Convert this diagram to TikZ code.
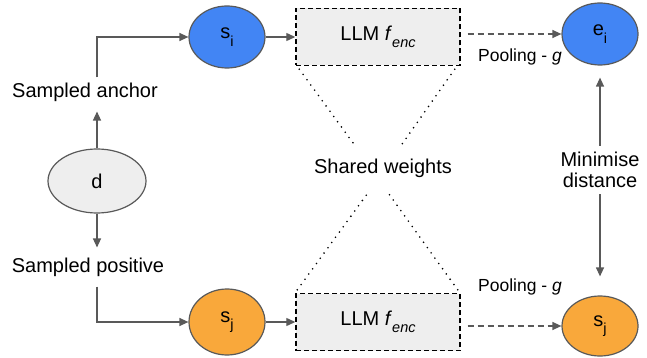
\documentclass[tikz,border=0pt]{standalone}
\usepackage{fontspec}
\setmainfont{Liberation Sans}
\usetikzlibrary{arrows.meta,shapes.geometric,calc}
\definecolor{lineg}{HTML}{595959}
\definecolor{fillg}{HTML}{EEEEEE}
\definecolor{gblue}{HTML}{4285F4}
\definecolor{gorange}{HTML}{F9A83B}
% lowered, slightly smaller subscript text
\newcommand\lowsub[1]{\raisebox{-7.5pt}{\fontsize{14.5}{16}\selectfont #1}}

\begin{document}
\begin{tikzpicture}[x=1pt,y=-1pt,
  font=\fontsize{20}{23}\selectfont,
  blob/.style={ellipse, draw=lineg, line width=1.2pt, minimum width=76pt, minimum height=62pt, inner sep=0pt},
  encbox/.style={rectangle, draw=black, dash pattern=on 5pt off 3pt, line width=1.4pt, fill=fillg, minimum width=164pt, minimum height=57pt},
  flow/.style={draw=lineg, line width=1.2pt, -{Triangle[length=9pt,width=8pt]}},
  pool/.style={flow, dash pattern=on 6pt off 4pt},
  tie/.style={line width=1.8pt, dash pattern=on 0pt off 6.5pt, line cap=round},
  lbl/.style={inner sep=2pt},
  poollbl/.style={inner sep=1pt, font=\fontsize{17.5}{20}\selectfont},
]
\useasboundingbox (0,0) rectangle (647,358);

% document and the two sampled views
\node[blob, fill=fillg, minimum width=98pt, minimum height=64pt] (d) at (97,181) {d};
\node[lbl] (anchor) at (85,92) {Sampled anchor};
\node[lbl] (positive) at (88,267) {Sampled positive};

% anchor branch
\node[blob, fill=gblue] (si) at (227,37) {s\lowsub{i}};
\node[encbox] (enc1) at (378,37) {LLM \textit{f}\lowsub{\textit{enc}}};
\node[blob, fill=gblue] (ei) at (600,34) {e\lowsub{i}};
\node[poollbl] (pool1) at (520,57) {Pooling - \textit{g}};

% positive branch
\node[blob, fill=gorange, minimum height=66pt] (sj1) at (227,322) {s\lowsub{j}};
\node[encbox] (enc2) at (378,322) {LLM \textit{f}\lowsub{\textit{enc}}};
\node[blob, fill=gorange, minimum height=60pt] (sj2) at (600,326) {s\lowsub{j}};
\node[poollbl] (pool2) at (520,287) {Pooling - \textit{g}};

% middle and right labels
\node[lbl] (shared) at (383,168) {Shared weights};
\node[lbl, align=center] (mini) at (600,170) {Minimise\\[-2pt]distance};

% sampling arrows
\draw[flow, shorten >=8pt] (d.north) -- (d |- anchor.south);
\draw[flow, shorten >=8pt] (d.south) -- (d |- positive.north);
\draw[flow, shorten <=3pt] (d |- anchor.north) |- (si.west);
\draw[flow, shorten <=8pt] (d |- positive.south) |- (sj1.west);

% encoders
\draw[flow] (si.east) -- (enc1.west);
\draw[flow] (sj1.east) -- (enc2.west);
\draw[pool, shorten <=7pt] (enc1.east |- ei) -- (ei.west);
\draw[pool, shorten <=7pt] (enc2.east |- sj2) -- (sj2.west);

% distance between embeddings
\draw[flow, shorten <=4pt, shorten >=12pt] (mini.north) -- (ei.south);
\draw[flow, shorten <=4pt, shorten >=19pt] (mini.south) -- (sj2.north);

% shared weights ties
\coordinate (tl) at (356,147);
\coordinate (tr) at (400,147);
\coordinate (bl) at (370,190);
\coordinate (br) at (386,190);
\draw[tie] ($(enc1.south west)+(4,3)$) -- (tl);
\draw[tie] ($(enc1.south east)+(-6,3)$) -- (tr);
\draw[tie] ($(enc2.north west)+(2,-3)$) -- (bl);
\draw[tie] ($(enc2.north east)+(-3,-3)$) -- (br);
\end{tikzpicture}
\end{document}
